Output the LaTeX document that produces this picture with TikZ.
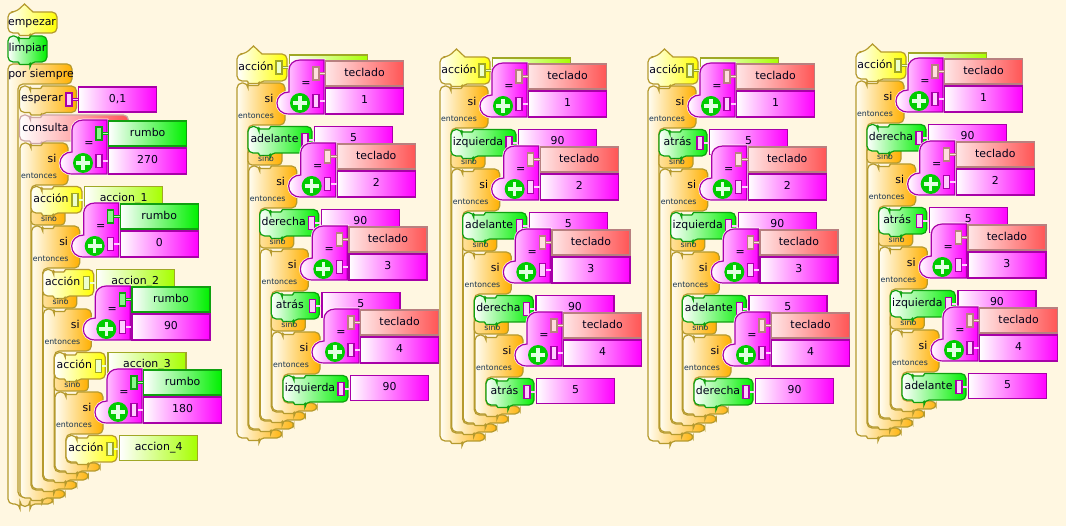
\documentclass[tikz,border=0pt]{standalone}
\usepackage{fontspec}
\setmainfont{DejaVu Sans}
\definecolor{paper}{HTML}{FFF7E1}
\definecolor{goldline}{HTML}{B59A2E}
\definecolor{ctrlfull}{HTML}{FFB000}
\definecolor{ctrlpale}{HTML}{FFFDF2}
\definecolor{yellowfull}{HTML}{FFFF00}
\definecolor{limefull}{HTML}{A6FF00}
\definecolor{limeline}{HTML}{A0A826}
\definecolor{greenfull}{HTML}{00F000}
\definecolor{greenline}{HTML}{10A010}
\definecolor{pinkfull}{HTML}{FF00FF}
\definecolor{pinkline}{HTML}{A800A8}
\definecolor{redfull}{HTML}{FF5555}
\definecolor{redline}{HTML}{B88080}
\definecolor{slateink}{HTML}{1A3550}
\tikzset{blocktext/.style={font=\fontsize{10.9}{12}\selectfont,text=black!90!blue,inner sep=0pt,text height=8pt,text depth=2pt},
 smalltext/.style={font=\fontsize{7.8}{9}\selectfont,text=slateink,inner sep=0pt},
 blockbase/.style={line width=1.2pt},
 ctrlblock/.style={blockbase,draw=goldline,left color=ctrlpale,right color=ctrlfull},
 sinoarm/.style={blockbase,draw=goldline,left color=ctrlfull!35!ctrlpale,right color=ctrlfull},
 callblock/.style={blockbase,draw=goldline,left color=white,right color=yellowfull},
 moveblock/.style={blockbase,draw=greenline,left color=white,right color=greenfull},
 askblock/.style={blockbase,draw=redline!70!white,left color=white,right color=redfull},
 boolblock/.style={blockbase,draw=pinkline,left color=white,middle color=pinkfull!70!white,right color=pinkfull,preaction={draw=white!60!paper,line width=2.6pt}},
 boxbase/.style={blocktext,blockbase,minimum width=78pt,minimum height=25pt,anchor=west},
 movebox/.style={boxbase,draw=pinkline,left color=white,right color=pinkfull},
 callbox/.style={boxbase,draw=limeline,left color=white,right color=limefull},
 headingbox/.style={boxbase,draw=greenline,left color=white,right color=greenfull},
 keybox/.style={boxbase,draw=redline,left color=white!85!redfull,right color=redfull},
 slotbase/.style={draw,line width=1.5pt,minimum width=6pt,minimum height=13pt,inner sep=0pt},
 moveslot/.style={slotbase,draw=pinkline,fill=pinkfull!20},
 callslot/.style={slotbase,draw=limeline,fill=limefull!20},
 headingslot/.style={slotbase,draw=greenline,fill=greenfull!45},
 keyslot/.style={slotbase,draw=redline,fill=redfull!20},
 movestem/.style={draw=pinkline,line width=.8pt,double=pinkfull!20,double distance=1.2pt},
 callstem/.style={draw=limeline,line width=.8pt,double=limefull!20,double distance=1.2pt},
 headingstem/.style={draw=greenline,line width=.8pt,double=greenfull!30,double distance=1.2pt},
 keystem/.style={draw=redline,line width=.8pt,double=redfull!20,double distance=1.2pt},
 adddot/.style={circle,fill=green!80!black,minimum size=20pt,inner sep=0pt},
 addbar/.style={draw=white!88!green,line width=3.6pt},
 }
\newcommand{\puzzle}[5]{\draw[#1] (#2,#3) ++(11,0) [rounded corners=1pt] -- ++(0,2.5) -- ++(11,0) -- ++(0,-2.5) [rounded corners=5pt] -- ++({#4-22},0) -- ++(0,#5) -- ++({22-#4},0) [rounded corners=1pt] -- ++(0,2.5) -- ++(-11,0) -- ++(0,-2.5) [rounded corners=5pt] -- ++(-11,0) -- ++(0,-#5) -- cycle;}
\newcommand{\hatblock}[5]{\draw[#1] (#2,#3) ++(8,0) -- ++(8.5,-8) -- ++(8.5,8) [rounded corners=5pt] -- ++({#4-25},0) -- ++(0,#5) -- ++({22-#4},0) [rounded corners=1pt] -- ++(0,2.5) -- ++(-11,0) -- ++(0,-2.5) [rounded corners=5pt] -- ++(-11,0) -- ++(0,-#5) -- cycle;}
\newcommand{\condstack}[4]{\foreach \act/\actw/\actval/\actkind/\boolval [count=\i] in {#4} {
  \begin{scope}[shift={({(\i-1)*11.67},{(\i-1)*83})}]
   \pgfmathsetmacro\sibot{328+(4-\i)*9-(\i-1)*83}
   \draw[ctrlblock] (11,0) [rounded corners=1pt] -- ++(0,2.5) -- ++(11,0) -- ++(0,-2.5) [rounded corners=5pt] -- (48,0) -- (48,42) -- (11,42) -- (11,{\sibot-8}) -- (45,{\sibot-8}) -- (45,\sibot) -- (22,\sibot) [rounded corners=1pt] -- ++(0,2.5) -- ++(-11,0) -- ++(0,-2.5) [rounded corners=5pt] -- (0,\sibot) -- (0,0) -- cycle;
   \ifnum\i<4
    \draw[sinoarm,rounded corners=4pt] (11,66) rectangle (45,82);
   \fi
   \node[blocktext] (#1-si\i) at (32,17) {si};
   \node[smalltext] (#1-then\i) at (19,33) {entonces};
   \puzzle{\actkind block}{11}{43.5}{\actw}{26.5}
   \node[blocktext] (#1-act\i) at ({11+(\actw-11)/2},57) {\act};
   \node[\actkind box] (#1-val\i) at ({13+\actw},56) {\actval};
   \node (#1-slotmark\i) at ({4+\actw},57) {};
   \draw[\actkind stem] (#1-slotmark\i.center) -- (#1-val\i.west |- #1-slotmark\i.center);
   \node[\actkind slot] (#1-slot\i) at ({4+\actw},57) {};
   \ifnum\i<4
    \node[smalltext] (#1-else\i) at (29,76) {sino};
   \fi
   \draw[boolblock] (87,-23) -- (87,31) -- (52,31) .. controls (44,31) and (40,26) .. (40,20) .. controls (40,14) and (45,9) .. (52,9) -- (52,-13) .. controls (52,-19) and (57,-23) .. (63,-23) -- cycle;
   \node[blocktext,font=\fontsize{11}{12}\selectfont] (#1-eq\i) at (69,1) {=};
   \node[adddot] (#1-add\i) at (63,20) {};
   \draw[addbar] (56,20) -- (70,20) (63,13) -- (63,27);
   \node[#3box] (#1-top\i) at (88,-9.5) {#2};
   \node[movebox,minimum height=26pt] (#1-low\i) at (88,18) {\boolval};
   \draw[#3stem] (79,-9.5) -- (#1-top\i.west);
   \draw[movestem] (79,18) -- (#1-low\i.west);
   \node[#3slot] (#1-topslot\i) at (79,-9.5) {};
   \node[moveslot] (#1-lowslot\i) at (79,18) {};
  \end{scope}
 }}
\newcommand{\movestack}[4]{\begin{scope}[shift={(#2,#3)}]
  \hatblock{callblock}{0}{-29}{50}{27}
  \node[blocktext] (#1-name) at (19,-15) {acción};
  \node[callbox] (#1-nameval) at (52,-15.5) {};
  \draw[callstem] (42,-15.5) -- (#1-nameval.west);
  \node[callslot] (#1-nameslot) at (42,-15.5) {};
  \condstack{#1}{teclado}{key}{#4}
 \end{scope}}
\begin{document}
\begin{tikzpicture}[x=1pt,y=-1pt]
 \useasboundingbox (0,0) rectangle (1066,526);
 \fill[paper] (0,0) rectangle (1066,526);
 \draw[ctrlblock,rounded corners=5pt] (8,64) -- (72,64) -- (72,84) -- (18,84) -- (18,497) -- (53,497) -- (53,504) -- (30,504) -- ++(0,2.5) -- ++(-10,0) -- ++(0,-2.5) -- (8,504) -- cycle;
 \node[blocktext] (forever) at (41,75) {por siempre};
 \hatblock{callblock}{8}{12}{49}{21}
 \node[blocktext] (start) at (32,22.5) {empezar};
 \puzzle{moveblock}{8}{36}{39}{26}
 \node[blocktext] (clear) at (27.5,49) {limpiar};
 \puzzle{ctrlblock}{19.5}{86}{57}{26.5}
 \node[blocktext] (wait) at (42,99) {esperar};
 \node[movebox] (waitval) at (78,99.5) {0,1};
 \draw[movestem] (69,99.5) -- (waitval.west);
 \node[moveslot] (waitslot) at (69,99.5) {};
 \puzzle{askblock}{19.5}{115}{109}{26}
 \node[blocktext] (ask) at (45.5,128.5) {consulta};
 \begin{scope}[shift={(20,143)}]
  \condstack{main}{rumbo}{heading}{acción/51/accion\_1/call/270,acción/51/accion\_2/call/0,acción/51/accion\_3/call/90,acción/51/accion\_4/call/180}
 \end{scope}
 \movestack{one}{237}{83}{adelante/64/5/move/1,derecha/59/90/move/2,atrás/48/5/move/3,izquierda/65/90/move/4}
 \movestack{two}{440}{86}{izquierda/65/90/move/1,adelante/64/5/move/2,derecha/59/90/move/3,atrás/48/5/move/4}
 \movestack{three}{648}{86}{atrás/48/5/move/1,izquierda/65/90/move/2,adelante/64/5/move/3,derecha/59/90/move/4}
 \movestack{four}{856}{81}{derecha/59/90/move/1,atrás/48/5/move/2,izquierda/65/90/move/3,adelante/64/5/move/4}
\end{tikzpicture}
\end{document}
